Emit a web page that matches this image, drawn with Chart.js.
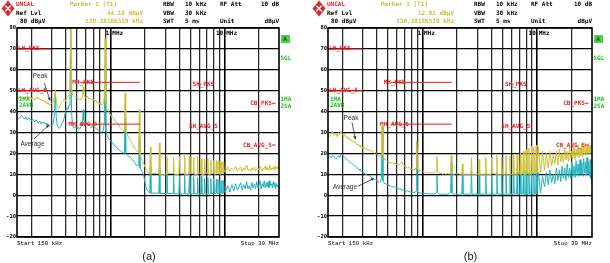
<!DOCTYPE html>
<html>
<head>
<meta charset="utf-8">
<script src="https://cdn.jsdelivr.net/npm/chart.js@4.4.1/dist/chart.umd.min.js"></script>
<style>
html,body{margin:0;padding:0;background:#fff;}
body{width:610px;height:263px;position:relative;overflow:hidden;}
.panel{position:absolute;top:0;height:263px;}
.panel canvas{position:absolute;left:0;top:0;}
.tx{position:absolute;white-space:nowrap;font-family:"DejaVu Sans Mono",monospace;font-weight:bold;font-size:6px;line-height:8px;color:#000;}
.foot{font-family:"Liberation Mono",monospace;font-weight:normal;font-size:5.8px;}
.cap{font-family:"Liberation Sans",Arial,sans-serif;font-weight:normal;font-size:11px;line-height:12px;color:#222;}
.abox{position:absolute;background:#4ccf4c;color:#0b5e0b;font:bold 6px "DejaVu Sans Mono",monospace;line-height:7.5px;height:7.5px;width:9px;text-align:center;}
</style>
</head>
<body>
<script>
// ---------------- data (MHz / dBµV) ----------------
const freqLow = [
0.150,0.155,0.160,0.165,0.170,0.175,0.180,0.185,0.190,0.195,
0.200,0.205,0.210,0.215,0.220,0.225,0.230,0.235,0.240,0.245,
0.250,0.255,0.260,0.265,0.270,0.275,0.280,0.285,0.290,0.295,
0.300,0.310,0.318,0.325,0.332,0.340,0.350,0.360,0.370,0.380,
0.390,0.400,0.410,0.420,0.430,0.438,0.445,0.452,0.460,0.470,
0.480,0.490,0.500,0.520,0.540,0.560,0.566,0.573,0.580,0.600,
0.620,0.640,0.660,0.680,0.700,0.720,0.740,0.760,0.780,0.800,
0.820,0.840,0.860,0.878,0.890,0.902,0.930,0.960,1.000,1.040,
1.080,1.120,1.160,1.200,1.250,1.300,1.318,1.335,1.352,1.400,
1.450,1.500,1.550,1.600,1.650,1.700,1.757,1.780,1.803,1.850,
1.900,1.950,2.000,2.050,2.100,2.150];

const freqHarm = [
2.198,2.225,2.252, 2.638,2.670,2.702, 3.078,3.115,3.152, 3.517,3.560,3.603, 3.957,4.005,4.053, 4.397,4.450,4.503,
4.836,4.895,4.954, 5.276,5.340,5.404, 5.716,5.785,5.854, 6.155,6.230,6.305, 6.595,6.675,6.755, 7.035,7.120,7.205,
7.474,7.565,7.656, 7.914,8.010,8.106, 8.354,8.455,8.556, 8.793,8.900,9.007, 9.233,9.345,9.457, 9.673,9.790,9.907,
10.235,10.680,11.125,11.570,12.015,12.460,12.905,13.350,13.795,14.240,
14.685,15.130,15.575,16.020,16.465,16.910,17.355,17.800,18.245,18.690,
19.135,19.580,20.025,20.470,20.915,21.360,21.805,22.250,22.695,23.140,
23.585,24.030,24.475,24.920,25.365,25.810,26.255,26.700,27.145,27.590,
28.035,28.480,28.925,29.370,29.815,30.000];

// (a) peak / average
const peakALow = [
47,46,47.5,46.5,46,47,46.5,47.5,46.5,47,
46,47,46.5,45.5,46.5,47,46,46.5,45.5,46,
45,45.5,44.5,45,44,44.5,43.5,44,43,43.5,
44,44.5,46,50.5,45,42,41.5,43,44.5,45,
46,45,46.5,47,48,52,86,52,48,47.5,
47,46.5,47,46,45.5,47,48,52,48,46.5,
47.5,46,46.5,45.5,46,45,45.5,44,44.5,43.5,
44,43,44,47,75,45,41,40,38,37.5,
36,34.5,34,32.5,31.5,30.5,32,49,31,29,
27,26,24.5,23,22,21,20.5,41,19.5,18,
16.5,15,13.5,12,11,10.5];
const avgALow = [
37,36.5,37.5,38,37,36.5,37.5,36,37,36.5,
35.5,36.5,36,35,36,35.5,34.5,35.5,35,34,
35,34.5,35,34,34.5,33.5,34,33,33.5,33,
33.5,34,37,48.5,37,33,32,32.5,34,35,
37,40,42,41,43,46,80,40,34,32.5,
32,33,32.5,31.5,32,34,37,41,36,34,
34.5,33.5,34,33,33.5,32.5,32,31.5,31,30.5,
30,30.5,31,35,62,31,28.5,27,26,25,
24,23,22,21.5,20.5,20,21,37,20,19,
18.5,18,17,16,15,14,14.5,26,13,12,
11,9,6,3.5,2,1.5];
const peakAHarm = [
10.5,23,10.5, 10.5,25,10, 10,18.5,10.5, 10.5,18,10, 10,18.5,10.5, 10.5,19,10,
10,18.5,10.5, 10.5,18,10, 10,18.5,10.5, 10.5,17.5,10, 10,17,10.5, 10.5,17.5,10,
10,17,10.5, 10.5,16.5,10, 10,16.5,10.5, 10.5,16.5,10, 10,16,10.5, 10.5,16,11,
12,13.5,11.5,13,12,14,11.5,12.5,13.5,11.5,
13,12,14.5,12,12.5,11.5,13,12,13.5,11.5,
12.5,13,12,14,12.5,11.5,13,12.5,14,12,
13.5,12,12.5,14.5,12,13,12.5,13.5,12,14,
12.5,13.5,12.5,14,13,13];
const avgAHarm = [
1,13.5,1, 1,13,0.8, 0.8,10,0.8, 0.8,9.5,0.6, 0.6,9,0.6, 0.6,10,0.6,
0.6,9,0.6, 0.6,9,0.6, 0.6,8.5,0.6, 0.6,9,0.6, 0.6,8,0.6, 0.6,8.5,0.6,
0.6,8,0.8, 0.8,8,0.8, 0.8,7.5,0.8, 0.8,7.5,1, 1,7,1, 1,7,1.5,
2,4.5,1.5,5,2,5.5,2.5,4,6,2.5,
5,3,6.5,3,4.5,2.5,6,3.5,5.5,3,
6.5,3.5,5,7,3,5.5,4,7,3.5,6,
4,6.5,3.5,7,4.5,5.5,3.5,6.5,4,6,
3,5.5,4,5,3,3];

// (b) peak / average
const peakBLow = [
29,28,29.5,30.5,28.5,29.5,28,30,29,30.5,
29,28.5,29.5,27.5,28,27,27.5,26,26.5,25.5,
26,25,25.5,24.5,24,24.5,23.5,24,23,23.5,
22.5,23,22,22.5,21.5,22,21,21.5,20.5,20,
20.5,19.5,19,18.5,19,20,33,19,17.5,17,
17,16.5,16,15.5,15.5,15,15,15.5,15,14.5,
14.5,15,16,14.5,14,13.5,13,13.5,12.5,12.5,
12,12.5,12,13,26,12.5,12,11.5,11.5,11,
11,10.5,11,10.5,11,11,11.5,18.5,11,10.5,
10.5,10,10.5,10,10.5,10,10.5,19,10.5,10,
10,10.5,10,10.5,10,10];
const avgBLow = [
19,18.5,18,19,18.5,17.5,18,19,18,19.5,
19.5,18.5,18,17.5,17,16.5,16,15.5,15.5,15,
14.5,14,14,13.5,13,12.5,12.5,12,11.5,11.5,
11,10.5,10,10,9.5,9.5,9,8.5,8,7.5,
7.5,7,6.5,6,6.5,8,33,7,6,5.5,
5.5,5,5,4.5,4,4,4,4,3.5,3.5,
3,3,2.5,2.5,2.2,2,2,1.8,1.6,1.5,
1.4,1.3,1.3,2,22,1.5,1.2,1,1,0.8,
0.8,0.8,0.6,0.6,0.6,0.8,1.5,9.5,1.2,0.6,
0.5,0.5,0.4,0.4,0.5,0.6,1.5,16,1,0.5,
0.4,0.5,0.4,0.5,0.4,0.4];
const peakBHarm = [
10,15,10, 10,18,10, 10,17,10, 10,18,10, 10,18,10.5, 10,19,10,
10,18,10, 10,19,10, 10,19,10, 10,19.5,10, 10,19.5,10.5, 10,20,10,
10.5,21,10, 10,22,10.5, 10.5,22.5,10, 10,23.5,10.5, 10.5,23,10.5, 10.5,24,10.5,
23,10.5,21,12,20,13,21,14,19,15,
21,14.5,22,16,20,15.5,22,17,21,16,
23,17.5,21,18,23.5,17,22,18.5,24,18,
22.5,19,24.5,18.5,23,19.5,25,19,23.5,20,
25,19.5,24,20,23,21];
const avgBHarm = [
0.5,10,0.5, 0.5,12,0.5, 0.5,10.5,0.5, 0.5,10,0.5, 0.5,9.5,0.5, 0.5,11,0.5,
0.5,9.5,0.5, 0.5,11,0.5, 0.5,10,0.5, 0.5,11,0.5, 0.5,11,0.5, 0.5,10,0.5,
0.5,11,0.5, 0.5,11.5,0.5, 0.5,10.5,0.5, 0.5,11.5,0.5, 0.5,11,0.5, 0.5,12,0.8,
11,1,9,4,11,5,12,6,10,5.5,
13,7,12,6.5,14,8,13,7,15,8.5,
13,8,16,9,14,8.5,16.5,9.5,15,9,
17,10,15.5,9,17.5,10.5,16,9.5,18,10,
16,9,17,8,12,5];

// limit lines (CISPR 25 class 5)
const limitNames = ['LH_PK5','LH_AVG_5','MH_PK5','MH_AVG_5','SH_PK5','SH_AVG_5','CB_PK5','CB_AVG_5'];
const limitStart = [0.15,0.15,0.53,0.53,5.9,5.9,26,26];
const limitEnd   = [0.30,0.30,1.8,1.8,6.2,6.2,28,28];
const limitLevel = [70,50,54,34,53,33,44,24];

// axes
const yTicks = [-20,-10,0,10,20,30,40,50,60,70,80];
const gridFreqs = [0.2,0.3,0.4,0.5,0.6,0.7,0.8,0.9,1,2,3,4,5,6,7,8,9,10,20];
const decadeFreqs = [1,10];
const decadeText = ['1','10'];

// ---------------- build ----------------
const freqMHz = freqLow.concat(freqHarm);
const peakA = peakALow.concat(peakAHarm), avgA = avgALow.concat(avgAHarm);
const peakB = peakBLow.concat(peakBHarm), avgB = avgBLow.concat(avgBHarm);
[peakA,avgA,peakB,avgB].forEach((a,i)=>{ if(a.length!==freqMHz.length) throw new Error('len mismatch '+i+' '+a.length+' vs '+freqMHz.length); });

const limitLabelFreq  = [0.153,0.153,0.57,0.57,6.5,6.5,26,26];
const limitLabelAlign = ['left','left','center','center','center','center','right','right'];

const RED='#ee1c1c', YEL='#cfbf30', CYA='#1fb4bd', GRN='#1cbf1c', MARKY='#cdbd3c';

const panels = [
  {left:0, width:300, plotLeft:17, plotRight:279, level:'44.18 dBµV', caption:'(a)', capX:149,
   peak:peakA, avg:avgA,
   notes:[{text:'Peak', f:0.239, v:56.7, from:[0.26,53.8], to:[0.293,45.2]},
          {text:'Average', f:0.205, v:24.6, from:[0.212,27], to:[0.287,33.7]}]},
  {left:311, width:299, plotLeft:17, plotRight:281, level:'12.81 dBµV', caption:'(b)', capX:159.5,
   peak:peakB, avg:avgB,
   notes:[{text:'Peak', f:0.238, v:36.9, from:[0.243,34.8], to:[0.26,26.7]},
          {text:'Average', f:0.211, v:3.6, from:[0.274,4.3], to:[0.378,8.1]}]}
];

const overlay = {
  id:'overlay',
  afterDatasetsDraw(chart, args, o){
    const ctx=chart.ctx, a=chart.chartArea, X=chart.scales.x, Y=chart.scales.y;
    ctx.save();
    ctx.strokeStyle='#000'; ctx.lineWidth=1.6;
    ctx.strokeRect(a.left, a.top, a.right-a.left, a.bottom-a.top);
    ctx.font='bold 6px "DejaVu Sans Mono"'; ctx.textBaseline='middle'; ctx.fillStyle='#000';
    decadeFreqs.forEach((f,i)=>{
      const px=X.getPixelForValue(f);
      ctx.textAlign='right'; ctx.fillText(decadeText[i], px-1.5, a.top+5);
      ctx.textAlign='left'; ctx.fillText('MHz', px+1.5, a.top+5);
    });
    ctx.fillStyle=RED;
    limitNames.forEach((n,i)=>{
      ctx.textAlign=limitLabelAlign[i];
      ctx.fillText(n, X.getPixelForValue(limitLabelFreq[i]), Y.getPixelForValue(limitLevel[i]));
    });
    ctx.font='6.5px "Liberation Sans"'; ctx.fillStyle='#333'; ctx.strokeStyle='#333'; ctx.lineWidth=0.8; ctx.textAlign='center';
    (o.notes||[]).forEach(nt=>{
      ctx.fillText(nt.text, X.getPixelForValue(nt.f), Y.getPixelForValue(nt.v));
      const x1=X.getPixelForValue(nt.from[0]), y1=Y.getPixelForValue(nt.from[1]);
      const x2=X.getPixelForValue(nt.to[0]), y2=Y.getPixelForValue(nt.to[1]);
      ctx.beginPath(); ctx.moveTo(x1,y1); ctx.lineTo(x2,y2); ctx.stroke();
      const ang=Math.atan2(y2-y1,x2-x1), L=3.5;
      ctx.beginPath(); ctx.moveTo(x2,y2);
      ctx.lineTo(x2-L*Math.cos(ang-0.45), y2-L*Math.sin(ang-0.45));
      ctx.lineTo(x2-L*Math.cos(ang+0.45), y2-L*Math.sin(ang+0.45));
      ctx.closePath(); ctx.fill();
    });
    ctx.restore();
  }
};

function addText(parent, text, x, cy, opt){
  opt = opt||{};
  const d=document.createElement('div');
  d.className='tx'+(opt.cls?(' '+opt.cls):'');
  d.textContent=text;
  d.style.left=x+'px';
  const lh = opt.lh||8;
  d.style.top=(cy-lh/2)+'px';
  if(opt.color) d.style.color=opt.color;
  if(opt.align==='right') d.style.transform='translateX(-100%)';
  if(opt.align==='center') d.style.transform='translateX(-50%)';
  parent.appendChild(d);
  return d;
}

panels.forEach(p=>{
  const div=document.createElement('div');
  div.className='panel'; div.style.left=p.left+'px'; div.style.width=p.width+'px';
  document.body.appendChild(div);
  const cv=document.createElement('canvas');
  cv.width=p.width; cv.height=263; cv.style.width=p.width+'px'; cv.style.height='263px';
  div.appendChild(cv);

  // logo
  const ns='http://www.w3.org/2000/svg';
  const svg=document.createElementNS(ns,'svg');
  svg.setAttribute('width','14'); svg.setAttribute('height','17');
  svg.style.position='absolute'; svg.style.left='1px'; svg.style.top='0px';
  svg.innerHTML='<polygon points="7,0.5 13.5,8.5 7,16.5 0.5,8.5" fill="#e3262b"/>'+
    '<path d="M4.3,5.8 L9.7,11.2 M9.7,5.8 L4.3,11.2" stroke="#fff" stroke-width="1.6"/>';
  div.appendChild(svg);

  const R=p.plotRight;
  addText(div,'UNCAL',16,4.2,{color:RED});
  addText(div,'Marker 1 [T1]',70,4.2,{color:MARKY});
  addText(div,'RBW',163,4.2);
  addText(div,'10 kHz',185,4.2);
  addText(div,'RF Att',220,4.2);
  addText(div,'10 dB',R,4.2,{align:'right'});
  addText(div,'Ref Lvl',16,12.5);
  addText(div,p.level,143,12.5,{align:'right',color:MARKY});
  addText(div,'VBW',163,12.5);
  addText(div,'30 kHz',185,12.5);
  addText(div,'80 dBµV',20,20.8);
  addText(div,'530.38186519 kHz',143,20.8,{align:'right',color:MARKY});
  addText(div,'SWT',163,20.8);
  addText(div,'5 ms',185,20.8);
  addText(div,'Unit',220,20.8);
  addText(div,'dBµV',R,20.8,{align:'right'});

  const ab=document.createElement('div'); ab.className='abox'; ab.textContent='A';
  ab.style.left=(R+1.5)+'px'; ab.style.top='35px'; div.appendChild(ab);
  addText(div,'SGL',R+1.5,57.5,{color:GRN});
  addText(div,'1MA',R+1.5,99,{color:GRN});
  addText(div,'2SA',R+1.5,106,{color:GRN});
  addText(div,'1MA',p.plotLeft+2,99,{color:GRN});
  addText(div,'2AVB',p.plotLeft+2,105,{color:GRN});

  addText(div,'Start 150 kHz',p.plotLeft,244,{cls:'foot'});
  addText(div,'Stop 30 MHz',R,244,{cls:'foot',align:'right'});
  addText(div,p.caption,p.capX,255.5,{cls:'cap',align:'center',lh:12});

  const pts = ys => freqMHz.map((f,i)=>({x:f,y:ys[i]}));
  const limitSets = limitNames.map((n,i)=>({
    label:n, data:[{x:limitStart[i],y:limitLevel[i]},{x:limitEnd[i],y:limitLevel[i]}],
    borderColor:RED, borderWidth:1, pointRadius:0, clip:0
  }));
  new Chart(cv,{
    type:'line',
    data:{datasets:[...limitSets,
      {label:'Peak', data:pts(p.peak), borderColor:YEL, borderWidth:1, pointRadius:0, clip:0, tension:0},
      {label:'Average', data:pts(p.avg), borderColor:CYA, borderWidth:1, pointRadius:0, clip:0, tension:0}]},
    options:{
      responsive:false, animation:false, events:[], devicePixelRatio:1,
      layout:{padding:{left:0, top:28, right:p.width-p.plotRight, bottom:0}},
      plugins:{legend:{display:false}, tooltip:{enabled:false}, overlay:{notes:p.notes}},
      scales:{
        x:{type:'logarithmic', min:0.15, max:30,
           afterBuildTicks:s=>{ s.ticks=gridFreqs.map(v=>({value:v})); },
           afterFit:s=>{ s.height=26; },
           ticks:{display:false},
           border:{display:false},
           grid:{drawTicks:false,
                 color:c=>(c.tick&&(c.tick.value===1||c.tick.value===10))?'#000':'#2a2a2a',
                 lineWidth:c=>(c.tick&&(c.tick.value===1||c.tick.value===10))?1.6:1.25}},
        y:{type:'linear', min:-20, max:80,
           afterBuildTicks:s=>{ s.ticks=yTicks.map(v=>({value:v})); },
           afterFit:s=>{ s.width=p.plotLeft; },
           border:{display:false},
           ticks:{padding:1, color:'#000', font:{family:'DejaVu Sans Mono', size:5.5, weight:'bold'}},
           grid:{drawTicks:false, color:'#000', lineWidth:1.3}}
      }
    },
    plugins:[overlay]
  });
});
</script>
</body>
</html>
